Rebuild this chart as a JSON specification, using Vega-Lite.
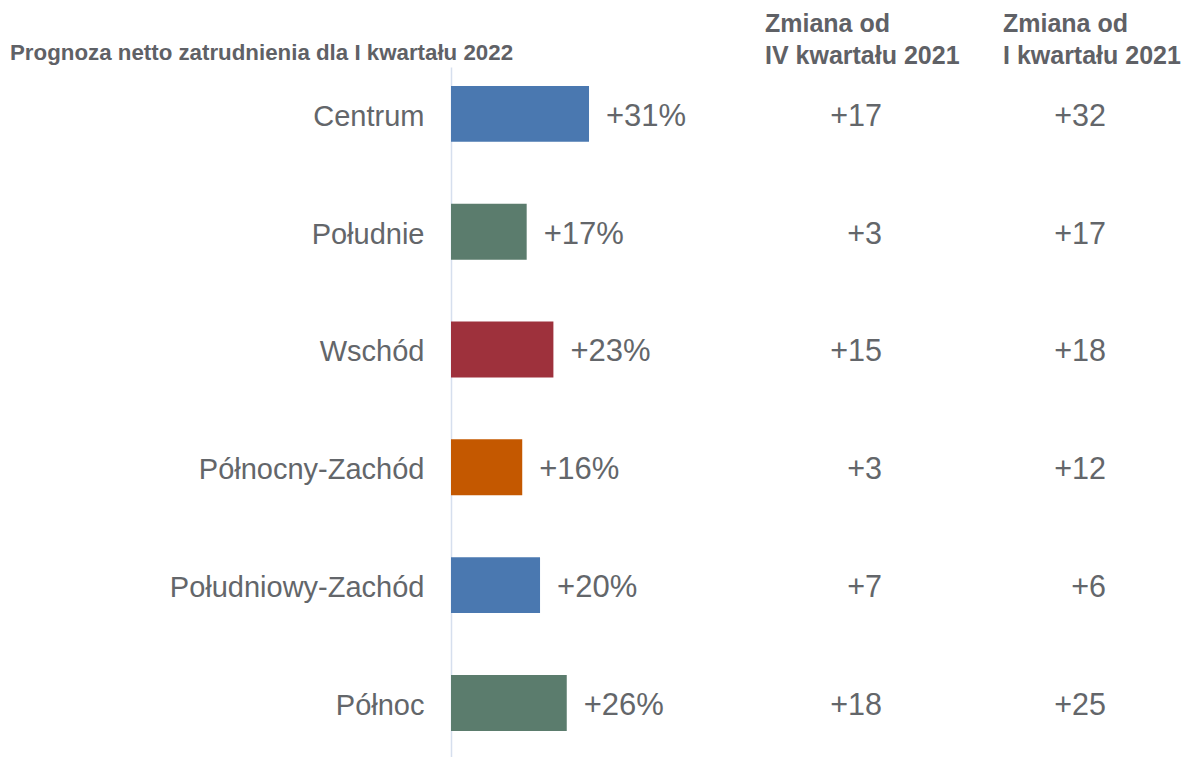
{
  "$schema": "https://vega.github.io/schema/vega-lite/v6.json",
  "padding": {"left": 10, "top": 12, "right": 0, "bottom": 0},
  "background": "white",
  "bounds": "flush",
  "spacing": 121,
  "config": {
    "view": {"stroke": null},
    "font": "Liberation Sans",
    "text": {"font": "Liberation Sans"}
  },
  "datasets": {
    "regiony": [
      {"region": "Centrum", "prognoza": 0.31, "zm_kw4": 17, "zm_kw1": 32},
      {"region": "Południe", "prognoza": 0.17, "zm_kw4": 3, "zm_kw1": 17},
      {"region": "Wschód", "prognoza": 0.23, "zm_kw4": 15, "zm_kw1": 18},
      {"region": "Północny-Zachód", "prognoza": 0.16, "zm_kw4": 3, "zm_kw1": 12},
      {"region": "Południowy-Zachód", "prognoza": 0.20, "zm_kw4": 7, "zm_kw1": 6},
      {"region": "Północ", "prognoza": 0.26, "zm_kw4": 18, "zm_kw1": 25}
    ]
  },
  "hconcat": [
    {
      "width": 193,
      "height": 690,
      "data": {"name": "regiony"},
      "title": {
        "text": "Prognoza netto zatrudnienia dla I kwartału 2022",
        "anchor": "start",
        "frame": "group",
        "dx": -441,
        "offset": 3,
        "font": "Liberation Sans",
        "fontSize": 22.3,
        "fontWeight": "bold",
        "color": "#5f6166"
      },
      "encoding": {
        "y": {
          "field": "region",
          "type": "nominal",
          "sort": null,
          "scale": {"type": "band", "paddingInner": 0.525, "paddingOuter": 0.191, "align": 0.42, "round": false},
          "axis": {
            "title": null,
            "ticks": false,
            "tickSize": 0,
            "labelPadding": 27,
            "labelOffset": 3,
            "labelFont": "Liberation Sans",
            "labelFontSize": 29,
            "labelColor": "#63666a",
            "labelLimit": 400,
            "domain": true,
            "domainColor": "#d6dfee",
            "domainWidth": 1.5,
            "grid": false
          }
        }
      },
      "layer": [
        {
          "mark": {"type": "bar"},
          "encoding": {
            "x": {"field": "prognoza", "type": "quantitative", "scale": {"domain": [0, 0.4335], "nice": false}, "axis": null},
            "color": {
              "field": "region",
              "type": "nominal",
              "scale": {
                "domain": ["Centrum", "Południe", "Wschód", "Północny-Zachód", "Południowy-Zachód", "Północ"],
                "range": ["#4a78b0", "#5b7c6d", "#9e313c", "#c45800", "#4a78b0", "#5b7c6d"]
              },
              "legend": null
            }
          }
        },
        {
          "mark": {"type": "text", "align": "left", "baseline": "middle", "dx": 17, "dy": 3, "fontSize": 31, "color": "#63666a"},
          "encoding": {
            "x": {"field": "prognoza", "type": "quantitative"},
            "text": {"field": "prognoza", "type": "quantitative", "format": "+.0%"}
          }
        }
      ]
    },
    {
      "width": 117,
      "height": 690,
      "data": {"name": "regiony"},
      "transform": [{"fold": ["zm_kw4"], "as": ["okres", "zmiana"]}],
      "title": {
        "text": ["Zmiana od", "IV kwartału 2021"],
        "anchor": "start",
        "frame": "group",
        "offset": -2,
        "lineHeight": 32,
        "font": "Liberation Sans",
        "fontSize": 25,
        "fontWeight": "bold",
        "color": "#5f6166"
      },
      "mark": {"type": "text", "align": "right", "baseline": "middle", "dy": 3, "fontSize": 30.5, "color": "#63666a"},
      "encoding": {
        "y": {
          "field": "region",
          "type": "nominal",
          "sort": null,
          "scale": {"type": "band", "paddingInner": 0.525, "paddingOuter": 0.191, "align": 0.42, "round": false},
          "axis": null
        },
        "x": {"field": "okres", "type": "nominal", "bandPosition": 1, "scale": {"type": "band", "paddingInner": 0, "paddingOuter": 0}, "axis": null},
        "text": {"field": "zmiana", "type": "quantitative", "format": "+d"}
      }
    },
    {
      "width": 103,
      "height": 690,
      "data": {"name": "regiony"},
      "transform": [{"fold": ["zm_kw1"], "as": ["okres", "zmiana"]}],
      "title": {
        "text": ["Zmiana od", "I kwartału 2021"],
        "anchor": "start",
        "frame": "group",
        "offset": -2,
        "lineHeight": 32,
        "font": "Liberation Sans",
        "fontSize": 25,
        "fontWeight": "bold",
        "color": "#5f6166"
      },
      "mark": {"type": "text", "align": "right", "baseline": "middle", "dy": 3, "fontSize": 30.5, "color": "#63666a"},
      "encoding": {
        "y": {
          "field": "region",
          "type": "nominal",
          "sort": null,
          "scale": {"type": "band", "paddingInner": 0.525, "paddingOuter": 0.191, "align": 0.42, "round": false},
          "axis": null
        },
        "x": {"field": "okres", "type": "nominal", "bandPosition": 1, "scale": {"type": "band", "paddingInner": 0, "paddingOuter": 0}, "axis": null},
        "text": {"field": "zmiana", "type": "quantitative", "format": "+d"}
      }
    }
  ]
}
